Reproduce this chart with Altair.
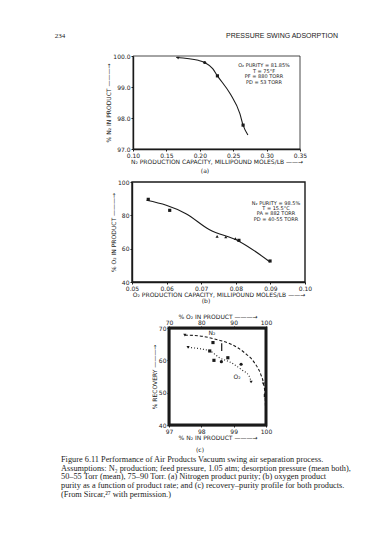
import altair as alt
import pandas as pd

# ---------------- data (read from the scanned page) ----------------
# (a) nitrogen product purity vs N2 production capacity
a_line_x = [0.1647, 0.1977, 0.2073, 0.2193, 0.2264, 0.2455, 0.2600, 0.2648, 0.2720]
a_line_y = [99.95, 99.86, 99.79, 99.59, 99.36, 98.78, 98.14, 97.77, 97.45]
a_pts_x = [0.1675, 0.2073, 0.2264, 0.2648]
a_pts_y = [99.93, 99.79, 99.36, 97.77]
a_pts_shape = ["triangle-down", "circle", "square", "square"]
a_x_ticks = [0.10, 0.15, 0.20, 0.25, 0.30, 0.35]
a_y_ticks = [97.0, 98.0, 99.0, 100.0]
a_notes = ["O₂ PURITY = 81.85%", "T = 75°F", "PF = 880 TORR", "PD = 53 TORR"]

# (b) oxygen product purity vs O2 production capacity
b_line_x = [0.0542, 0.0599, 0.0656, 0.0723, 0.0809, 0.0899]
b_line_y = [89.0, 86.0, 81.0, 71.5, 64.5, 52.0]
b_pts_x = [0.0547, 0.0609, 0.0746, 0.0771, 0.0799, 0.0809, 0.0899]
b_pts_y = [89.6, 83.0, 67.4, 67.0, 66.0, 65.0, 52.6]
b_pts_shape = ["square", "square", "triangle-up", "triangle-up", "triangle-up", "square", "square"]
b_x_ticks = [0.05, 0.06, 0.07, 0.08, 0.09, 0.10]
b_y_ticks = [40, 60, 80, 100]
b_notes = ["N₂ PURITY = 98.5%", "T = 15.5°C", "PA = 882 TORR", "PD = 40-55 TORR"]

# (c) recovery-purity profiles
n2_line_x = [97.49, 97.90, 98.41, 98.92, 99.33, 99.64, 99.84, 99.92, 99.97, 99.99]
n2_line_y = [67.8, 67.6, 66.6, 65.0, 62.4, 59.3, 55.6, 53.0, 49.4, 43.8]
n2_pts_x = [97.49, 98.36, 99.92, 99.98]
n2_pts_y = [67.8, 65.5, 52.7, 49.1]
n2_pts_shape = ["triangle-down", "square", "triangle-down", "square"]
n2_bar_x = [98.63]
n2_bar_lo = [62.9]
n2_bar_hi = [65.3]
o2_line_x = [75.9, 82.6, 85.6, 89.2, 92.3, 94.8, 95.4]
o2_line_y = [64.0, 62.9, 60.8, 59.3, 57.2, 55.1, 53.3]
o2_pts_x = [75.9, 82.6, 83.9, 86.2, 88.2, 92.3, 95.4]
o2_pts_y = [64.0, 62.9, 60.0, 59.6, 60.8, 58.8, 53.3]
o2_pts_shape = ["triangle-down", "square", "square", "circle", "square", "circle", "triangle-down"]
c_x_ticks = [97, 98, 99, 100]
c_top_ticks = [70, 80, 90, 100]
c_y_ticks = [40, 50, 60, 70]

header_left = "234"
header_right = "PRESSURE SWING ADSORPTION"
caption = [
    "Figure 6.11  Performance of Air Products Vacuum swing air separation process.",
    "Assumptions: N₂ production; feed pressure, 1.05 atm; desorption pressure (mean both),",
    "50–55 Torr (mean), 75–90 Torr. (a) Nitrogen product purity; (b) oxygen product",
    "purity as a function of product rate; and (c) recovery–purity profile for both products.",
    "(From Sircar,²⁷ with permission.)",
]

# ---------------- layout ----------------
W, H = 359, 517
M = 8  # page margin
FONT = "DejaVu Sans"
INK = "#1a1a1a"


def ax(orient, values, fmt, title, offset, **kw):
    d = dict(orient=orient, values=values, format=fmt, title=title, offset=offset,
             labelFont=FONT, titleFont=FONT, labelFontSize=6, titleFontSize=6,
             tickSize=2, labelPadding=1, titlePadding=0, domainColor=INK,
             tickColor=INK, labelColor=INK, titleColor=INK, grid=False,
             titleFontWeight="normal", domainWidth=1.4, labelFlush=False)
    d.update(kw)
    return alt.Axis(**d)


def panel(xenc, yenc, line_df, pts_df, frame_df, frame_w, dash=None):
    line_kw = dict(color=INK, strokeWidth=1.1, interpolate="monotone")
    if dash:
        line_kw["strokeDash"] = dash
    layers = [
        alt.Chart(frame_df).mark_rect(fill=None, stroke=INK, strokeWidth=frame_w).encode(
            x=xenc, y=yenc, x2="x2:Q", y2="y2:Q"),
        alt.Chart(line_df).mark_line(**line_kw).encode(x=xenc, y=yenc),
        alt.Chart(pts_df).mark_point(filled=True, color=INK, size=10, opacity=1).encode(
            x=xenc, y=yenc, shape=alt.Shape("s:N", scale=None)),
    ]
    return layers


def text_at(s, x, y, size=5, align="center", font=FONT, angle=0, weight="normal"):
    return alt.Chart(pd.DataFrame({"t": [s]})).mark_text(
        font=font, fontSize=size, align=align, baseline="middle", color=INK,
        angle=angle, fontWeight=weight).encode(
        text="t:N", x=alt.value(x - M), y=alt.value(y - M))


# ----- (a) -----
Xa = alt.X("x:Q", scale=alt.Scale(domain=[0.10, 0.35], range=[133 - M, 300 - M], nice=False, zero=False),
           axis=ax("bottom", a_x_ticks, ".2f", "N₂ PRODUCTION CAPACITY, MILLIPOUND MOLES/LB ——→", (149 - M) - H))
Ya = alt.Y("y:Q", scale=alt.Scale(domain=[97, 100], range=[149 - M, 56 - M], nice=False, zero=False),
           axis=ax("left", a_y_ticks, ".1f", "% N₂ IN PRODUCT ———→", -(133 - M), titlePadding=1))
A = alt.layer(*panel(
    Xa, Ya,
    pd.DataFrame({"x": a_line_x, "y": a_line_y}),
    pd.DataFrame({"x": a_pts_x, "y": a_pts_y, "s": a_pts_shape}),
    pd.DataFrame({"x": [0.10], "y": [97], "x2": [0.35], "y2": [100]}), 0.8))

# ----- (b) -----
Xb = alt.X("x:Q", scale=alt.Scale(domain=[0.05, 0.10], range=[132 - M, 305 - M], nice=False, zero=False),
           axis=ax("bottom", b_x_ticks, ".2f", "O₂ PRODUCTION CAPACITY, MILLIPOUND MOLES/LB ——→", (282 - M) - H))
Yb = alt.Y("y:Q", scale=alt.Scale(domain=[40, 100], range=[282 - M, 182 - M], nice=False, zero=False),
           axis=ax("left", b_y_ticks, "d", "% O₂ IN PRODUCT ———→", -(132 - M), titlePadding=1))
B = alt.layer(*panel(
    Xb, Yb,
    pd.DataFrame({"x": b_line_x, "y": b_line_y}),
    pd.DataFrame({"x": b_pts_x, "y": b_pts_y, "s": b_pts_shape}),
    pd.DataFrame({"x": [0.05], "y": [40], "x2": [0.10], "y2": [100]}), 1.4))

# ----- (c) -----
Yc = alt.Y("y:Q", scale=alt.Scale(domain=[40, 70], range=[425 - M, 328 - M], nice=False, zero=False),
           axis=ax("left", c_y_ticks, "d", "% RECOVERY ———→", -(169 - M), titlePadding=1))
Xcb = alt.X("x:Q", scale=alt.Scale(domain=[97, 100], range=[169 - M, 266 - M], nice=False, zero=False),
            axis=ax("bottom", c_x_ticks, "d", "% N₂ IN PRODUCT ———→", (425 - M) - H))
Xct = alt.X("x:Q", scale=alt.Scale(domain=[70, 100], range=[169 - M, 266 - M], nice=False, zero=False),
            axis=ax("top", c_top_ticks, "d", "% O₂ IN PRODUCT ———→", -(328 - M)))
n2_layers = panel(
    Xcb, Yc,
    pd.DataFrame({"x": n2_line_x, "y": n2_line_y}),
    pd.DataFrame({"x": n2_pts_x, "y": n2_pts_y, "s": n2_pts_shape}),
    pd.DataFrame({"x": [97], "y": [40], "x2": [100], "y2": [70]}), 3, dash=[3, 2])
n2_layers.append(
    alt.Chart(pd.DataFrame({"x": n2_bar_x, "y": n2_bar_lo, "y2": n2_bar_hi})).mark_rule(
        color=INK, strokeWidth=1.2).encode(x=Xcb, y=Yc, y2="y2:Q"))
o2_layers = [
    alt.Chart(pd.DataFrame({"x": o2_line_x, "y": o2_line_y})).mark_line(
        color=INK, strokeWidth=1.1, strokeDash=[1, 2], interpolate="monotone").encode(x=Xct, y=Yc),
    alt.Chart(pd.DataFrame({"x": o2_pts_x, "y": o2_pts_y, "s": o2_pts_shape})).mark_point(
        filled=True, color=INK, size=10, opacity=1).encode(x=Xct, y=Yc, shape=alt.Shape("s:N", scale=None)),
]
C = alt.layer(alt.layer(*n2_layers), alt.layer(*o2_layers)).resolve_scale(x="independent")

# ----- page texts -----
texts = [
    text_at(header_left, 60, 36, size=7, font="Liberation Serif"),
    text_at(header_right, 338, 36, size=7, align="right", font="Liberation Sans"),
    text_at("(a)", 205, 171, size=6),
    text_at("(b)", 206, 301, size=6),
    text_at("(c)", 200, 450, size=6),
    text_at("N₂", 212, 333, size=6),
    text_at("O₂", 237, 377, size=6),
]
for i, s in enumerate(a_notes):
    texts.append(text_at(s, 264, 65 + i * 5.6, size=5))
for i, s in enumerate(b_notes):
    texts.append(text_at(s, 276, 203 + i * 5.2, size=5))
for i, s in enumerate(caption):
    texts.append(text_at(s, 61, 460 + i * 8.7, size=8.3, align="left", font="Liberation Serif"))

chart = alt.layer(A, B, C, *texts).resolve_scale(x="independent", y="independent").properties(
    width=W, height=H, padding=0, autosize="none", background="white"
).configure_view(stroke=None)

chart.save("out.html", embed_options={"renderer": "svg", "actions": False})
